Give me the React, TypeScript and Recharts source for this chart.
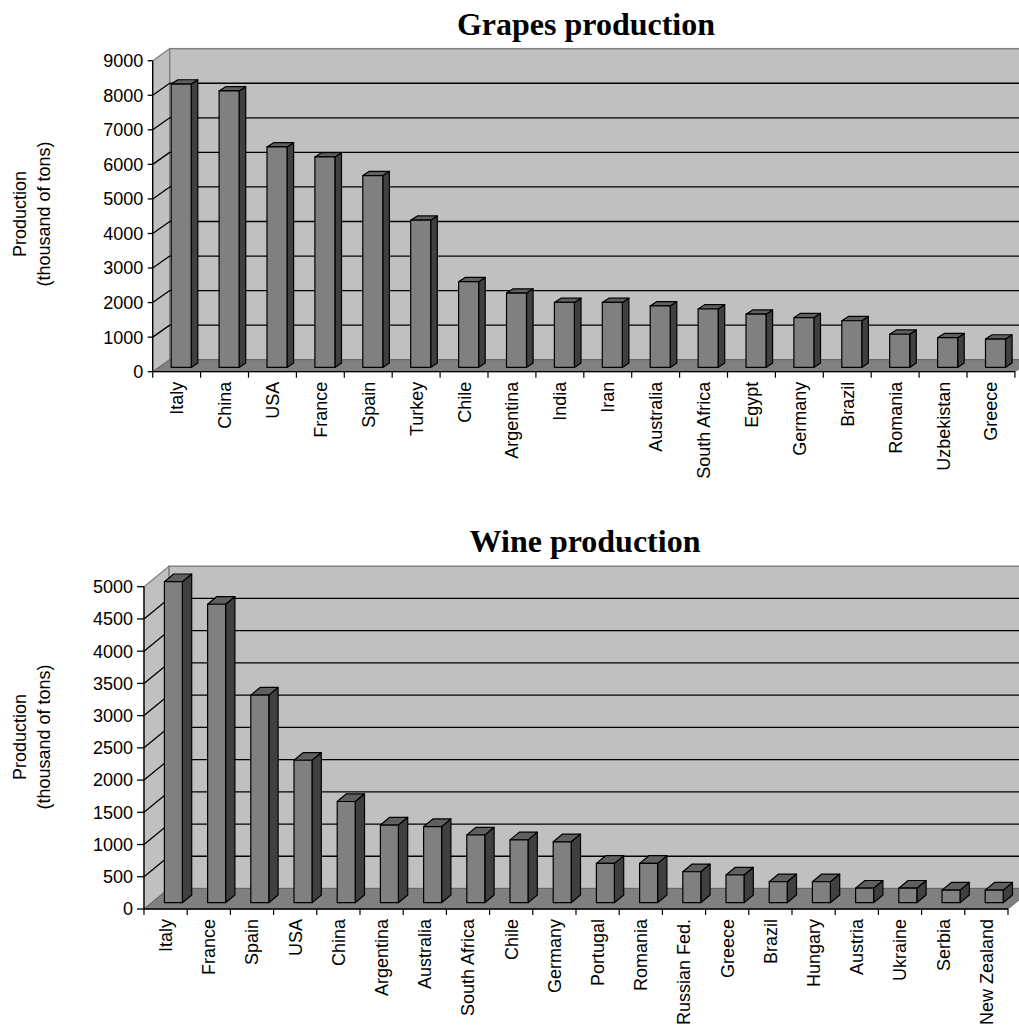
import React from 'react';
import { BarChart, Bar, XAxis, YAxis, CartesianGrid, ReferenceArea } from 'recharts';

const grapeCountries = [
  'Italy', 'China', 'USA', 'France', 'Spain', 'Turkey', 'Chile', 'Argentina', 'India',
  'Iran', 'Australia', 'South Africa', 'Egypt', 'Germany', 'Brazil', 'Romania', 'Uzbekistan', 'Greece',
];
const grapeValues = [8200, 8000, 6380, 6090, 5550, 4260, 2480, 2150, 1880, 1880, 1780, 1690, 1540, 1440, 1350, 960, 860, 820];
const grapeTicks = [0, 1000, 2000, 3000, 4000, 5000, 6000, 7000, 8000, 9000];

const wineCountries = [
  'Italy', 'France', 'Spain', 'USA', 'China', 'Argentina', 'Australia', 'South Africa', 'Chile', 'Germany',
  'Portugal', 'Romania', 'Russian Fed.', 'Greece', 'Brazil', 'Hungary', 'Austria', 'Ukraine', 'Serbia', 'New Zealand',
];
const wineValues = [4980, 4630, 3220, 2210, 1570, 1205, 1180, 1050, 975, 945, 610, 610, 480, 430, 325, 325, 225, 225, 195, 195];
const wineTicks = [0, 500, 1000, 1500, 2000, 2500, 3000, 3500, 4000, 4500, 5000];

const SANS = '"Liberation Sans", Arial, sans-serif';
const SERIF = '"Liberation Serif", "Times New Roman", serif';

type Geo = {
  width: number;
  height: number;
  top: number;
  left: number;
  right: number;
  xAxisH: number;
  wall: [number, number];
  front: [number, number];
  depth: [number, number];
  barSize: number;
  yTick: number;
  yMargin: number;
  titleX: number;
  titleY: number;
  yTitleY: number;
};

const grapeGeo: Geo = {
  width: 1019, height: 500, top: 60.7, left: 152.7, right: 4.1, xAxisH: 128.3,
  wall: [17, -12], front: [4.5, -4.3], depth: [6.6, -4.3], barSize: 20,
  yTick: 5, yMargin: 4.5, titleX: 586, titleY: 35, yTitleY: 214,
};

const wineGeo: Geo = {
  width: 1019, height: 518, top: 76.7, left: 144, right: 11, xAxisH: 119,
  wall: [25, -20.5], front: [7.4, -6.3], depth: [9.3, -7.7], barSize: 18,
  yTick: 7, yMargin: 4, titleX: 585, titleY: 42, yTitleY: 227,
};

function Chart3D({ title, categories, values, ticks, geo }: {
  title: string; categories: string[]; values: number[]; ticks: number[]; geo: Geo;
}) {
  const data = categories.map((name, i) => ({ name, value: values[i] }));
  const max = ticks[ticks.length - 1];
  const plotBottom = geo.height - geo.xAxisH;
  const bw = (geo.width - geo.left - geo.right) / categories.length;
  const [wdx, wdy] = geo.wall;

  const walls = (p: any) => {
    const { x, y, width: w, height: h } = p;
    return (
      <g>
        <polygon
          points={`${x},${y} ${x + wdx},${y + wdy} ${x + wdx},${y + h + wdy} ${x},${y + h}`}
          fill="#c0c0c0" stroke="#808080" strokeWidth={1.2}
        />
        <rect x={x + wdx} y={y + wdy} width={w} height={h} fill="#c0c0c0" stroke="#808080" strokeWidth={1.5} />
        <polygon
          points={`${x},${y + h} ${x + w},${y + h} ${x + w + wdx},${y + h + wdy} ${x + wdx},${y + h + wdy}`}
          fill="#808080" stroke="#666" strokeWidth={1}
        />
      </g>
    );
  };

  const gridLine = (p: any) => {
    const { x1, y1, x2, y2, key } = p;
    if (Math.abs(y1 - geo.top) < 0.5 || Math.abs(y1 - plotBottom) < 0.5) return <g key={key} />;
    return (
      <g key={key}>
        <line x1={x1} y1={y1} x2={x1 + wdx} y2={y1 + wdy} stroke="#000" strokeWidth={1.3} />
        <line x1={x1 + wdx} y1={y1 + wdy} x2={x2 + wdx} y2={y2 + wdy} stroke="#000" strokeWidth={1.3} />
      </g>
    );
  };

  const barShape = (p: any) => {
    const { x, y, width: w, height: h } = p;
    if (h == null || isNaN(h)) return <g />;
    const fx = x + geo.front[0];
    const fy = y + geo.front[1];
    const [bx, by] = geo.depth;
    return (
      <g stroke="#000" strokeWidth={1.2} strokeLinejoin="round">
        <polygon points={`${fx + w},${fy} ${fx + w + bx},${fy + by} ${fx + w + bx},${fy + h + by} ${fx + w},${fy + h}`} fill="#404040" />
        <polygon points={`${fx},${fy} ${fx + bx},${fy + by} ${fx + w + bx},${fy + by} ${fx + w},${fy}`} fill="#606060" />
        <rect x={fx} y={fy} width={w} height={h} fill="#808080" />
      </g>
    );
  };

  const xTick = (p: any) => {
    const { x, payload, index } = p;
    const left = x - bw / 2;
    return (
      <g>
        <line x1={left} y1={plotBottom} x2={left} y2={plotBottom + 6} stroke="#000" strokeWidth={1.2} />
        {index === categories.length - 1 && (
          <line x1={x + bw / 2} y1={plotBottom} x2={x + bw / 2} y2={plotBottom + 6} stroke="#000" strokeWidth={1.2} />
        )}
        <text
          transform={`translate(${x},${plotBottom + 10}) rotate(-90)`}
          textAnchor="end" dy="0.36em" fontSize={18} fontFamily={SANS} fill="#000"
        >
          {payload.value}
        </text>
      </g>
    );
  };

  return (
    <div style={{ position: 'relative', width: geo.width, height: geo.height }}>
      <BarChart
        width={geo.width}
        height={geo.height}
        data={data}
        margin={{ top: geo.top, right: geo.right, bottom: 0, left: 0 }}
        barSize={geo.barSize}
      >
        <ReferenceArea y1={0} y2={max} ifOverflow="visible" shape={walls} zIndex={-200} />
        <CartesianGrid vertical={false} horizontal={gridLine} zIndex={-150} />
        <XAxis
          dataKey="name"
          interval={0}
          height={geo.xAxisH}
          tickLine={false}
          axisLine={{ stroke: '#000', strokeWidth: 1.3 }}
          tick={xTick}
        />
        <YAxis
          width={geo.left}
          domain={[0, max]}
          ticks={ticks}
          interval={0}
          tickSize={geo.yTick}
          tickMargin={geo.yMargin}
          axisLine={{ stroke: '#000', strokeWidth: 1.3 }}
          tickLine={{ stroke: '#000', strokeWidth: 1.3 }}
          tick={{ fill: '#000', fontSize: 18, fontFamily: SANS }}
        />
        <Bar dataKey="value" shape={barShape} isAnimationActive={false} />
      </BarChart>
      <svg
        width={geo.width}
        height={geo.height}
        style={{ position: 'absolute', left: 0, top: 0, pointerEvents: 'none' }}
      >
        <text x={geo.titleX} y={geo.titleY} textAnchor="middle" fontFamily={SERIF} fontWeight="bold" fontSize={32} fill="#000">
          {title}
        </text>
        <text
          transform={`translate(25.5,${geo.yTitleY}) rotate(-90)`}
          textAnchor="middle" fontFamily={SANS} fontSize={18} fill="#000"
        >
          Production
        </text>
        <text
          transform={`translate(50,${geo.yTitleY}) rotate(-90)`}
          textAnchor="middle" fontFamily={SANS} fontSize={18} fill="#000"
        >
          (thousand of tons)
        </text>
      </svg>
    </div>
  );
}

export default function App() {
  return (
    <div style={{ position: 'absolute', left: 0, top: 0, width: 1019, height: 1028, background: '#fff', overflow: 'hidden' }}>
      <Chart3D title="Grapes production" categories={grapeCountries} values={grapeValues} ticks={grapeTicks} geo={grapeGeo} />
      <div style={{ position: 'absolute', left: 0, top: 510 }}>
        <Chart3D title="Wine production" categories={wineCountries} values={wineValues} ticks={wineTicks} geo={wineGeo} />
      </div>
    </div>
  );
}
